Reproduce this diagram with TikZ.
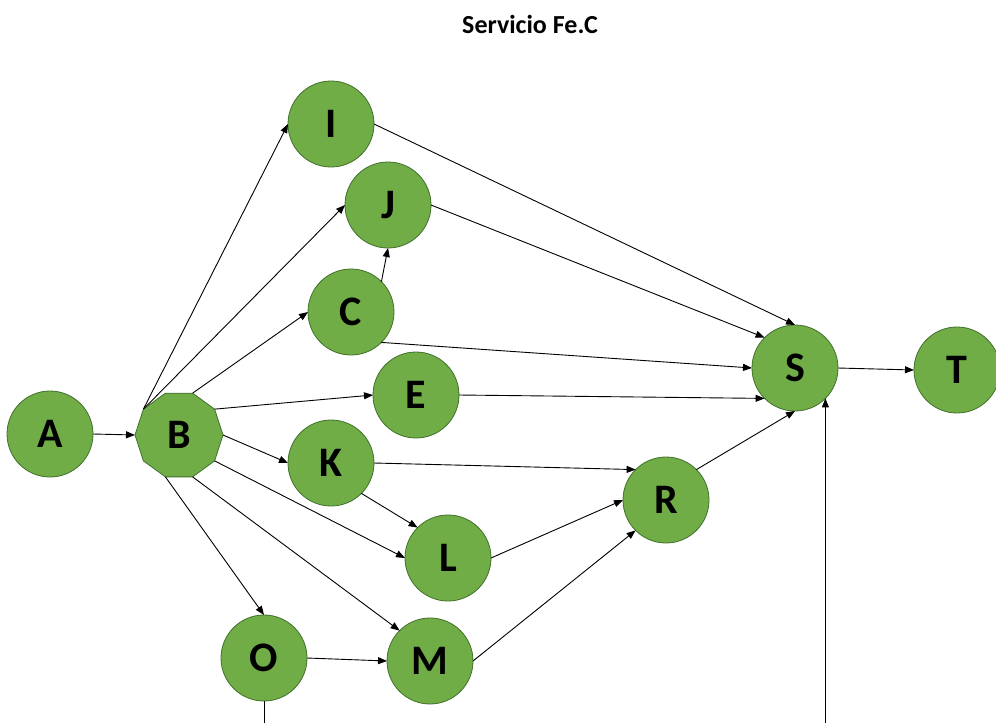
\documentclass[tikz,border=0pt]{standalone}
\usepackage{fontspec}
\setmainfont{Carlito}
\usetikzlibrary{arrows.meta,shapes.geometric}

\definecolor{nodefill}{HTML}{70AD47}
\definecolor{nodeedge}{HTML}{41712B}

\begin{document}
\begin{tikzpicture}[x=1pt,y=-1pt,
  vert/.style={circle, draw=nodeedge, fill=nodefill, line width=0.8pt,
    minimum size=86pt, inner sep=0pt, outer sep=0pt,
    font=\fontsize{42}{42}\selectfont\bfseries},
  hub/.style={regular polygon, regular polygon sides=10, draw=nodeedge,
    fill=nodefill, line width=0.8pt, minimum size=88pt, inner sep=0pt,
    outer sep=0pt, font=\fontsize{42}{42}\selectfont\bfseries},
  link/.style={-{Triangle[length=9pt,width=7pt]}, line width=0.9pt},
  plain/.style={line width=0.9pt}]

\useasboundingbox (0,0) rectangle (996,723);
\clip (0,0) rectangle (996,723);

\node (title) at (530,24) {\fontsize{26}{26}\selectfont\bfseries Servicio Fe.C};

% activities
\node[vert] (A) at (50,434) {A};
\node[hub]  (B) at (179,435) {B};
\node[vert] (I) at (331,124) {I};
\node[vert] (J) at (388,205) {J};
\node[vert] (C) at (351,312) {C};
\node[vert] (E) at (416,395) {E};
\node[vert] (K) at (331,463) {K};
\node[vert] (L) at (448,558) {L};
\node[vert] (O) at (264,658) {O};
\node[vert] (M) at (430,661) {M};
\node[vert] (R) at (666,500) {R};
\node[vert] (S) at (795,368) {S};
\node[vert] (T) at (957,370) {T};

\coordinate (bottom) at (0,723);

% dependencies
\draw[link] (A.east) -- (B.180);
\draw[link] (B.144) -- (I.west);
\draw[link] (B.144) -- (J.west);
\draw[link] (B.72) -- (C.west);
\draw[link] (B.36) -- (E.west);
\draw[link] (B.0) -- (K.west);
\draw[link] (B.-36) -- (L.west);
\draw[link] (B.-72) -- (M.north west);
\draw[link] (B.-108) -- (O.north);
\draw[link] (C.north east) -- (J.south);
\draw[link] (K.south east) -- (L.north west);
\draw[link] (O.east) -- (M.west);
\draw[link] (K.east) -- (R.north west);
\draw[link] (L.east) -- (R.west);
\draw[link] (M.east) -- (R.south west);
\draw[link] (I.east) -- (S.north);
\draw[link] (J.east) -- (S.north west);
\draw[link] (C.south east) -- (S.west);
\draw[link] (E.east) -- (S.south west);
\draw[link] (R.north east) -- (S.south);
\draw[link] (S.south east |- bottom) -- (S.south east);
\draw[link] (S.east) -- (T.west);
\draw[plain] (O.south) -- (O.south |- bottom);
\end{tikzpicture}
\end{document}
